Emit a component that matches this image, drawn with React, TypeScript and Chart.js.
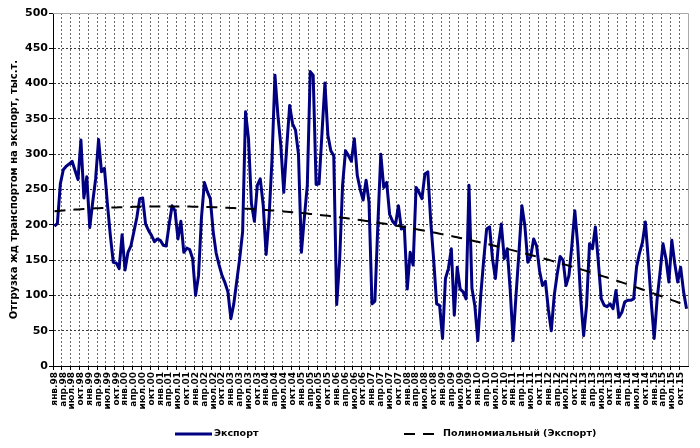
import React, { useEffect, useRef } from 'react';
import { Chart, registerables } from 'chart.js';

Chart.register(...registerables);

const MONTHS = ['янв', 'фев', 'мар', 'апр', 'май', 'июн', 'июл', 'авг', 'сен', 'окт', 'ноя', 'дек'];
const YEARS = ['98', '99', '00', '01', '02', '03', '04', '05', '06', '07', '08', '09', '10', '11', '12', '13', '14', '15'];
const CATEGORIES = YEARS.flatMap((y) => MONTHS.map((m) => `${m}.${y}`));

// Отгрузка жд транспортом на экспорт, тыс.т. (monthly, янв.98 – дек.15)
const EXPORT = [
  198, 202, 258, 278, 283, 286, 290, 277, 264, 320, 238, 268, // 1998
  196, 232, 265, 321, 275, 280, 230, 185, 147, 146, 138, 186, // 1999
  136, 161, 170, 190, 210, 237, 238, 201, 192, 185, 176, 180, // 2000
  178, 171, 170, 200, 227, 220, 180, 205, 161, 167, 165, 152, // 2001
  100, 128, 210, 260, 247, 237, 190, 160, 143, 128, 118, 105, // 2002
  67, 88, 120, 152, 190, 360, 322, 230, 205, 256, 265, 228, // 2003
  158, 211, 293, 412, 355, 312, 246, 310, 369, 343, 334, 300, // 2004
  161, 210, 256, 417, 412, 257, 258, 330, 401, 327, 305, 298, // 2005
  87, 150, 256, 305, 298, 290, 322, 270, 250, 235, 263, 232, // 2006
  88, 92, 200, 300, 253, 260, 215, 205, 200, 227, 194, 197, // 2007
  109, 161, 143, 253, 246, 237, 272, 275, 204, 150, 88, 86, // 2008
  39, 124, 138, 166, 72, 140, 109, 105, 95, 256, 110, 85, // 2009
  36, 100, 150, 194, 197, 152, 124, 171, 201, 152, 166, 109, // 2010
  36, 100, 161, 227, 199, 147, 155, 180, 170, 135, 114, 120, // 2011
  80, 50, 100, 130, 155, 150, 114, 128, 171, 220, 171, 95, // 2012
  43, 86, 173, 166, 197, 147, 95, 86, 84, 88, 81, 107, // 2013
  69, 76, 91, 93, 93, 95, 140, 160, 175, 204, 150, 90, // 2014
  39, 95, 133, 173, 152, 119, 178, 145, 119, 140, 105, 81, // 2015
];

const Y_MIN = 0;
const Y_MAX = 500;
const Y_STEP = 50;

const SERIES_LABEL = 'Экспорт';
const TREND_LABEL = 'Полиномиальный (Экспорт)';
const Y_TITLE = 'Отгрузка жд транспортом на экспорт, тыс.т.';

// Excel-style polynomial (order 2) trendline: least-squares fit of the series
function polyTrend(values: number[]): number[] {
  const n = values.length;
  const s = [0, 0, 0, 0, 0];
  const r = [0, 0, 0];
  for (let i = 0; i < n; i++) {
    const t = i / (n - 1);
    let p = 1;
    for (let k = 0; k < 5; k++) {
      s[k] += p;
      if (k < 3) r[k] += p * values[i];
      p *= t;
    }
  }
  const M = [
    [s[0], s[1], s[2], r[0]],
    [s[1], s[2], s[3], r[1]],
    [s[2], s[3], s[4], r[2]],
  ];
  for (let c = 0; c < 3; c++) {
    for (let rr = c + 1; rr < 3; rr++) {
      const f = M[rr][c] / M[c][c];
      for (let k = c; k < 4; k++) M[rr][k] -= f * M[c][k];
    }
  }
  const coef = [0, 0, 0];
  for (let c = 2; c >= 0; c--) {
    let v = M[c][3];
    for (let k = c + 1; k < 3; k++) v -= M[c][k] * coef[k];
    coef[c] = v / M[c][c];
  }
  return values.map((_, i) => {
    const t = i / (n - 1);
    return coef[0] + coef[1] * t + coef[2] * t * t;
  });
}

const FONT = '"DejaVu Sans", Verdana, sans-serif';

const decorPlugin = {
  id: 'decor',
  beforeDatasetsDraw(chart: any) {
    const { ctx, chartArea: a } = chart;
    ctx.save();
    ctx.strokeStyle = '#a8a8a8';
    ctx.lineWidth = 1;
    ctx.beginPath();
    ctx.moveTo(Math.round(a.left), Math.round(a.top) + 0.5);
    ctx.lineTo(Math.round(a.right) + 0.5, Math.round(a.top) + 0.5);
    ctx.lineTo(Math.round(a.right) + 0.5, Math.round(a.bottom));
    ctx.stroke();
    ctx.restore();
  },
  afterDraw(chart: any) {
    const { ctx } = chart;
    const ly = 434;
    ctx.save();
    ctx.font = `bold 9.5px ${FONT}`;
    ctx.fillStyle = '#000';
    ctx.textBaseline = 'middle';
    // series
    ctx.strokeStyle = '#000080';
    ctx.lineWidth = 3;
    ctx.beginPath();
    ctx.moveTo(175, ly);
    ctx.lineTo(212, ly);
    ctx.stroke();
    ctx.fillText(SERIES_LABEL, 214, ly);
    // trend
    ctx.strokeStyle = '#000';
    ctx.lineWidth = 2;
    ctx.setLineDash([11, 8]);
    ctx.beginPath();
    ctx.moveTo(404, ly);
    ctx.lineTo(440, ly);
    ctx.stroke();
    ctx.setLineDash([]);
    ctx.fillText(TREND_LABEL, 443, ly);
    ctx.restore();
  },
};

export default function App() {
  const ref = useRef<HTMLCanvasElement | null>(null);

  useEffect(() => {
    document.body.style.margin = '0';
    const canvas = ref.current;
    if (!canvas) return;
    const trend = polyTrend(EXPORT);
    const gridOn = (i: number) => i % 3 === 0 && i < CATEGORIES.length;
    const chart = new Chart(canvas, {
      type: 'line',
      data: {
        labels: CATEGORIES,
        datasets: [
          {
            label: SERIES_LABEL,
            data: EXPORT,
            borderColor: '#000080',
            backgroundColor: '#000080',
            borderWidth: 3,
            pointRadius: 0,
            tension: 0,
            borderJoinStyle: 'round',
            order: 2,
          },
          {
            label: TREND_LABEL,
            data: trend,
            borderColor: '#000000',
            borderWidth: 2,
            borderDash: [11, 8],
            pointRadius: 0,
            tension: 0,
            order: 1,
          },
        ],
      },
      options: {
        responsive: false,
        animation: false,
        devicePixelRatio: 1,
        layout: { padding: { top: 13, right: 12, left: 0, bottom: 0 } },
        plugins: {
          legend: { display: false },
          tooltip: { enabled: false },
        },
        scales: {
          x: {
            type: 'category',
            offset: true,
            afterFit: (scale: any) => {
              scale.height = 82;
            },
            grid: {
              offset: true,
              color: (ctx: any) => (gridOn(ctx.index) ? '#6a6a6a' : 'rgba(0,0,0,0)'),
              tickColor: (ctx: any) => (ctx.index % 3 === 0 ? '#000' : 'rgba(0,0,0,0)'),
              lineWidth: 1,
              tickLength: 4,
              drawTicks: true,
            },
            border: { display: true, color: '#000', width: 1, dash: [2, 2] },
            ticks: {
              autoSkip: false,
              minRotation: 90,
              maxRotation: 90,
              padding: 2,
              color: '#000',
              font: { family: FONT, size: 9, weight: 'bold' },
              callback: (_v: any, i: number) => (i % 3 === 0 ? CATEGORIES[i] : ''),
            },
          },
          y: {
            min: Y_MIN,
            max: Y_MAX,
            afterFit: (scale: any) => {
              scale.width = 53;
            },
            grid: {
              color: '#383838',
              tickColor: '#000',
              lineWidth: 1,
              tickLength: 4,
            },
            border: { display: true, color: '#000', width: 1, dash: [2, 2] },
            ticks: {
              stepSize: Y_STEP,
              padding: 1,
              color: '#000',
              font: { family: FONT, size: 11, weight: 'bold' },
            },
            title: {
              display: true,
              text: Y_TITLE,
              color: '#000',
              padding: { top: 8, bottom: 0 },
              font: { family: FONT, size: 10, weight: 'bold' },
            },
          },
        },
      },
      plugins: [decorPlugin],
    });
    return () => chart.destroy();
  }, []);

  return (
    <div style={{ width: 700, height: 448, background: '#fff' }}>
      <canvas ref={ref} width={700} height={448} style={{ display: 'block' }} />
    </div>
  );
}
